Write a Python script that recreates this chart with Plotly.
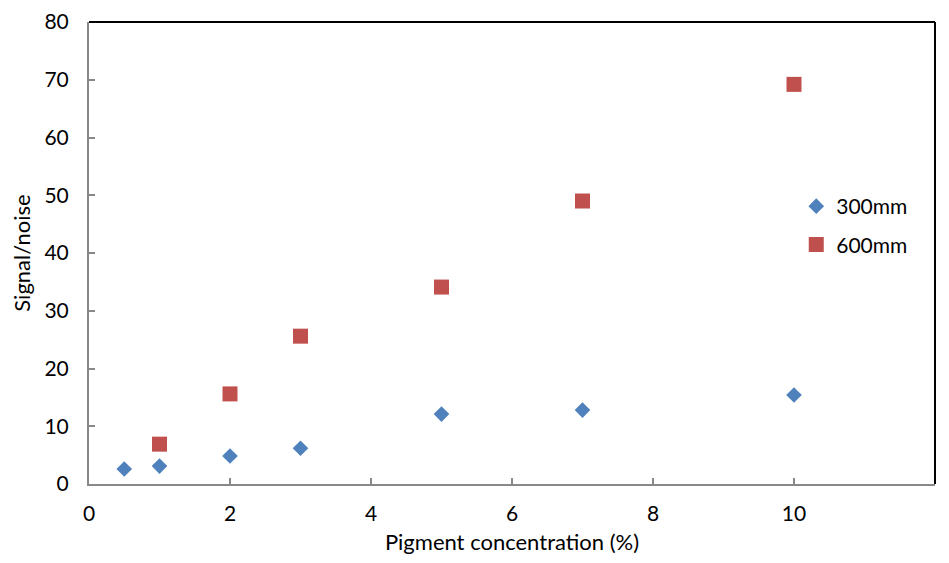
import plotly.graph_objects as go

x_300 = [0.5, 1, 2, 3, 5, 7, 10]
y_300 = [2.6, 3.1, 4.85, 6.2, 12.1, 12.8, 15.4]
x_600 = [1, 2, 3, 5, 7, 10]
y_600 = [6.9, 15.6, 25.6, 34.1, 49.0, 69.2]
x_ticks = [0, 2, 4, 6, 8, 10, 12]

FONT = "Lato, Carlito, 'Open Sans', sans-serif"

fig = go.Figure()
fig.add_trace(go.Scatter(x=x_300, y=y_300, mode="markers", name="300mm",
                         legendgroup="a",
                         marker=dict(symbol="diamond", size=12, color="#4F81BD",
                                     line=dict(width=0))))
fig.add_trace(go.Scatter(x=x_600, y=y_600, mode="markers", name="600mm",
                         legendgroup="b",
                         marker=dict(symbol="square", size=15, color="#C0504D",
                                     line=dict(width=0))))

fig.update_layout(
    width=933, height=547,
    margin=dict(l=81, r=6, t=14, b=71),
    paper_bgcolor="white", plot_bgcolor="white",
    font=dict(family=FONT, size=21, color="black"),
    showlegend=True,
    legend=dict(x=0.836, y=0.645, xanchor="left", yanchor="top",
                font=dict(size=21), bgcolor="rgba(0,0,0,0)",
                tracegroupgap=8),
    xaxis=dict(range=[0, 12], tickvals=x_ticks[:-1],
               ticktext=[str(v) for v in x_ticks[:-1]],
               showgrid=False, zeroline=False,
               automargin=False,
               showline=True, linecolor="#888888", linewidth=2,
               ticks="inside", ticklen=6, tickcolor="#888888", tickwidth=1.5,
               ticklabelstandoff=10,
               title=dict(text="Pigment concentration (%)", standoff=14,
                          font=dict(size=22))),
    xaxis2=dict(range=[0, 12], overlaying="x", side="bottom",
                tickvals=x_ticks[-1:], ticktext=[str(v) for v in x_ticks[-1:]],
                showgrid=False, zeroline=False, showline=False,
                automargin=False, ticks="", ticklabelstandoff=10,
                ticklabelshift=-6, ticklabeloverflow="allow"),
    yaxis=dict(range=[0, 80], dtick=10, tick0=0, showgrid=False, zeroline=False,
               automargin=False,
               showline=True, linecolor="#888888", linewidth=2,
               ticks="inside", ticklen=6, tickcolor="#888888", tickwidth=1.5,
               ticklabelstandoff=14,
               title=dict(text="Signal/noise", standoff=14, font=dict(size=22))),
    shapes=[
        dict(type="line", xref="paper", yref="paper", x0=0, x1=1, y0=1, y1=1,
             line=dict(color="black", width=2)),
        dict(type="line", xref="paper", yref="paper", x0=1, x1=1, y0=0, y1=1,
             line=dict(color="black", width=2)),
    ],
)

fig.write_html("out.html")
